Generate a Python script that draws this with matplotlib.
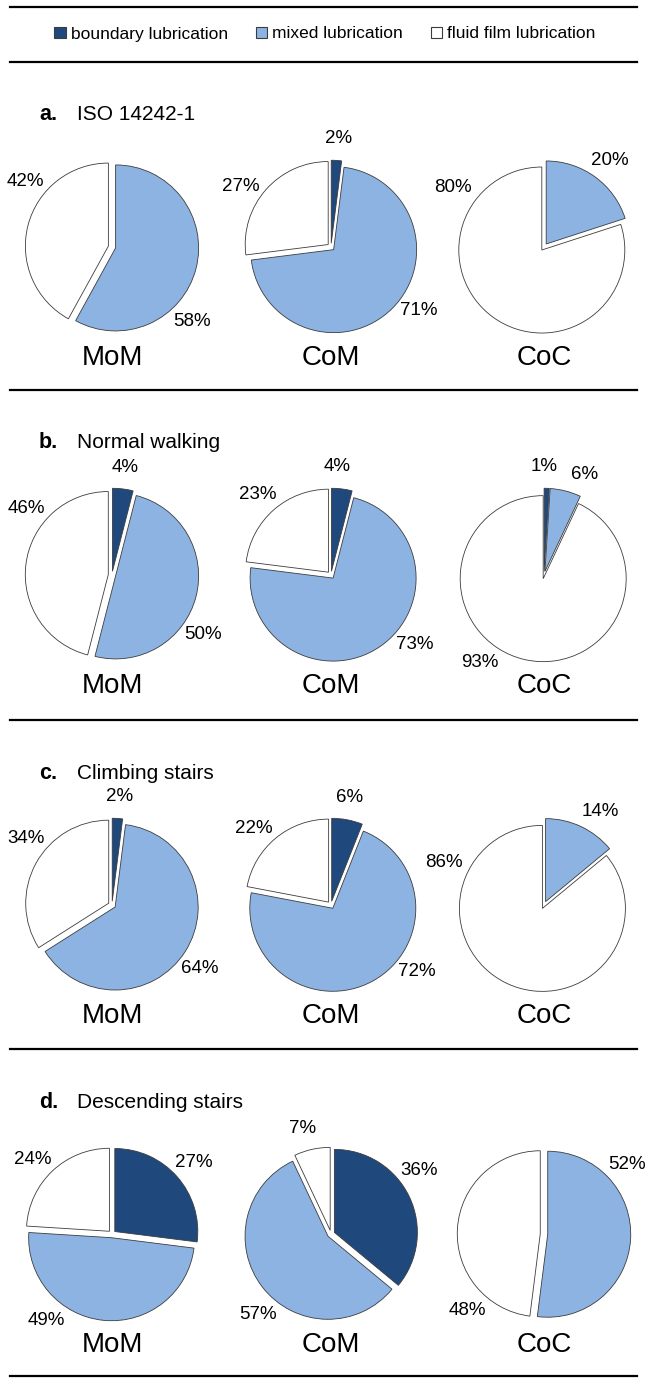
import numpy as np
import matplotlib.pyplot as plt
from matplotlib.patches import Patch
from matplotlib.lines import Line2D

plt.rcParams['font.family'] = ['Liberation Sans', 'DejaVu Sans']

# data: share of boundary / mixed / fluid film lubrication (%)
categories = ['boundary lubrication', 'mixed lubrication', 'fluid film lubrication']
bearings = ['MoM', 'CoM', 'CoC']
panel_letters = ['a.', 'b.', 'c.', 'd.']
panel_titles = ['ISO 14242-1', 'Normal walking', 'Climbing stairs', 'Descending stairs']

iso = [[0, 58, 42], [2, 71, 27], [0, 20, 80]]
walking = [[4, 50, 46], [4, 73, 23], [1, 6, 93]]
climbing = [[2, 64, 34], [6, 72, 22], [0, 14, 86]]
descending = [[27, 49, 24], [36, 57, 7], [0, 52, 48]]
panels = [iso, walking, climbing, descending]

# where the percent labels sit (angle in degrees, for the non-zero slices)
label_angles = [
    [[-43, 143], [86, -36, 146], [53, 147]],
    [[83, -33, 142], [87, -40, 132], [90, 68, -126]],
    [[86, -36, 142], [80, -38, 135], [59, 157]],
    [[41, -127, 137], [36, -132, 105], [40, -135]],
]

colors = ['#1F497D', '#8DB3E2', '#FFFFFF']
edge = '#3C3C3C'

W, H = 649, 1385
fig = plt.figure(figsize=(W / 100, H / 100), dpi=100)


def fx(x):
    return x / W


def fy(y):
    return 1 - y / H


def hline(y):
    fig.add_artist(Line2D([fx(10), fx(637)], [fy(y), fy(y)], transform=fig.transFigure,
                          color='black', lw=1.6))


hline(7)
handles = [Patch(facecolor=c, edgecolor=edge, lw=0.8) for c in colors]
fig.legend(handles, categories, loc='center', bbox_to_anchor=(fx(325), fy(34)), ncol=3,
           frameon=False, fontsize=12.5, handlelength=0.65, handleheight=0.65,
           handletextpad=0.3, columnspacing=1.6)

tops = [62, 390, 720, 1049]
centers_x = [112, 331, 544]
R = 83      # pie radius in px
half = 130  # half size of each pie axes in px
lim = half / R

for p, data in enumerate(panels):
    L = tops[p]
    hline(L)
    fig.text(fx(39), fy(L + 53), panel_letters[p], fontsize=15.5, fontweight='bold',
             ha='left', va='center')
    fig.text(fx(77), fy(L + 53), panel_titles[p], fontsize=15, ha='left', va='center')
    cy = L + 185
    for j, vals in enumerate(data):
        cx = centers_x[j]
        ax = fig.add_axes([fx(cx - half), fy(cy + half), 2 * half / W, 2 * half / H])
        keep = [k for k, v in enumerate(vals) if v > 0]
        v = [vals[k] for k in keep]
        cols = [colors[k] for k in keep]
        ax.pie(v, colors=cols, startangle=90, counterclock=False, radius=1,
               explode=[0.045] * len(v),
               wedgeprops=dict(edgecolor=edge, linewidth=0.6))
        ax.set_xlim(-lim, lim)
        ax.set_ylim(-lim, lim)
        ax.set_aspect('equal')
        ax.axis('off')
        for val, ang in zip(v, label_angles[p][j]):
            a = np.deg2rad(ang)
            d = 1.31
            ax.text(d * np.cos(a), d * np.sin(a), f'{val}%', ha='center', va='center',
                    fontsize=13.5)
        fig.text(fx(cx), fy(L + 296), bearings[j], fontsize=20, ha='center', va='center')

hline(1376)

fig.savefig('out.png', dpi=100, facecolor='white')
